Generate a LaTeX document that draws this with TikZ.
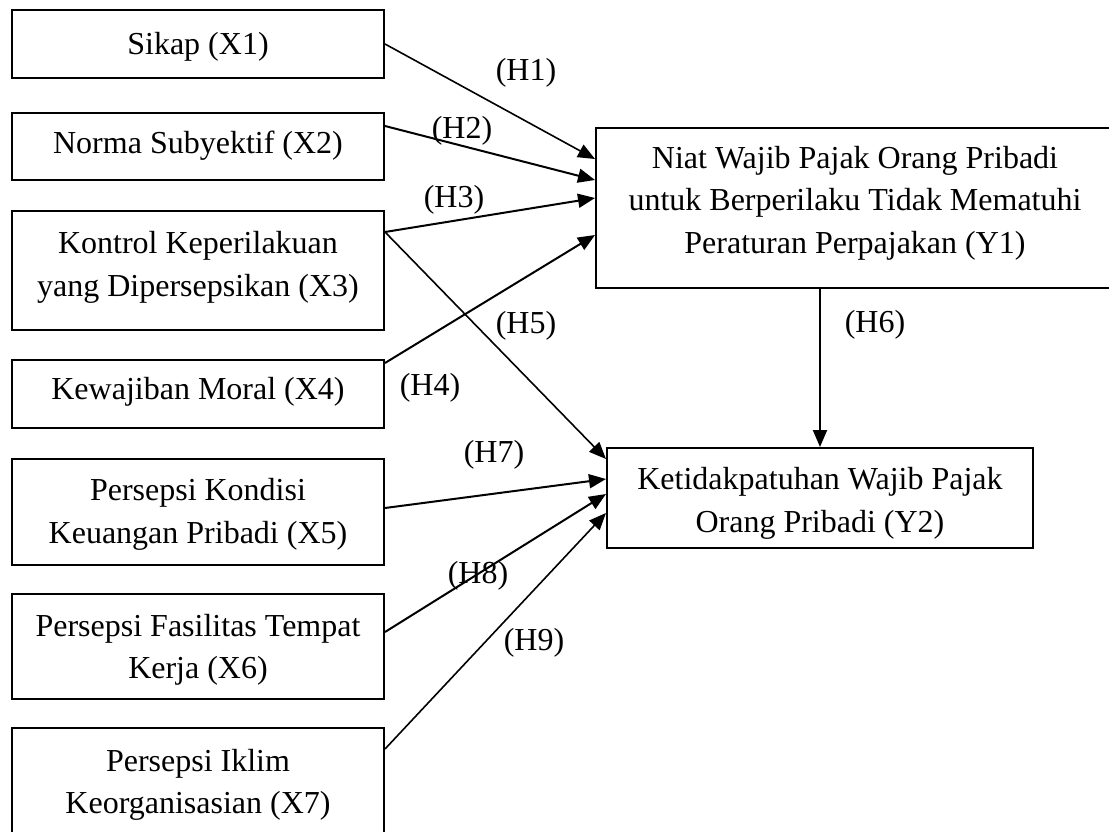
\documentclass[tikz,border=0pt]{standalone}
\usepackage{fontspec}
\setmainfont{Liberation Serif}
\usetikzlibrary{arrows.meta}
\newcommand\updepth[1]{\rule[-#1]{0pt}{0pt}}
\newcommand\upheight[1]{\rule{0pt}{#1}}
\begin{document}
\begin{tikzpicture}[x=1pt,y=-1pt,
  box/.style={draw, line width=2pt, rectangle, inner sep=0pt, align=center,
    font=\fontsize{32}{42.5}\selectfont},
  xbox/.style={box, minimum width=372pt},
  conn/.style={line width=2pt, -{Triangle[length=17pt,width=14pt]}},
  thinconn/.style={conn, line width=1.6pt},
  hlab/.style={inner sep=0pt, font=\fontsize{32}{38}\selectfont}]
\clip (0,0) rectangle (1109,832);
\fill[white] (0,0) rectangle (1109,832);
% left boxes
\node[xbox, minimum height=68pt]  (X1) at (198,44)    {\upheight{27pt}Sikap (X1)};
\node[xbox, minimum height=67pt]  (X2) at (198,146.5) {Norma Subyektif (X2)\updepth{9pt}};
\node[xbox, minimum height=119pt] (X3) at (198,270.5) {Kontrol Keperilakuan\\yang Dipersepsikan (X3)\updepth{13pt}};
\node[xbox, minimum height=68pt]  (X4) at (198,394)   {Kewajiban Moral (X4)\updepth{11pt}};
\node[xbox, minimum height=106pt] (X5) at (198,512)   {\upheight{27pt}Persepsi Kondisi\\Keuangan Pribadi (X5)};
\node[xbox, minimum height=105pt] (X6) at (198,646.5) {\upheight{29pt}Persepsi Fasilitas Tempat\\Kerja (X6)};
\node[xbox, minimum height=108pt] (X7) at (198,782)   {\upheight{28pt}Persepsi Iklim\\Keorganisasian (X7)};
% right boxes
\node[box, minimum width=518pt, minimum height=160pt] (Y1) at (855,208)
  {Niat Wajib Pajak Orang Pribadi\\untuk Berperilaku Tidak Mematuhi\\Peraturan Perpajakan (Y1)\updepth{17pt}};
\node[box, minimum width=426pt, minimum height=100pt] (Y2) at (820,498)
  {\upheight{33pt}Ketidakpatuhan Wajib Pajak\\Orang Pribadi (Y2)};
% connectors
\draw[thinconn] (X1.east) -- ([yshift=-32pt]Y1.north west);
\draw[conn] ([yshift=-14pt]X2.north east) -- ([yshift=-53pt]Y1.north west);
\draw[conn] ([yshift=-22pt]X3.north east) -- ([yshift=-71pt]Y1.north west);
\draw[conn] ([yshift=-4pt]X4.north east) -- ([yshift=-108pt]Y1.north west);
\draw[thinconn] ([yshift=-22pt]X3.north east) -- ([yshift=-12pt]Y2.north west);
\draw[conn] (Y2.north |- Y1.south) -- (Y2.north);
\draw[conn] ([yshift=-50pt]X5.north east) -- ([yshift=-32pt]Y2.north west);
\draw[conn] ([yshift=-39pt]X6.north east) -- ([yshift=-47pt]Y2.north west);
\draw[thinconn] ([yshift=-22pt]X7.north east) -- ([yshift=-66pt]Y2.north west);
% labels
\node[hlab] (h1) at (526,73)  {(H1)};
\node[hlab] (h2) at (462,131) {(H2)};
\node[hlab] (h3) at (454,200) {(H3)};
\node[hlab] (h4) at (430,388) {(H4)};
\node[hlab] (h5) at (526,326) {(H5)};
\node[hlab] (h6) at (875,325) {(H6)};
\node[hlab] (h7) at (494,455) {(H7)};
\node[hlab] (h8) at (478,576) {(H8)};
\node[hlab] (h9) at (534,643) {(H9)};
\end{tikzpicture}
\end{document}
